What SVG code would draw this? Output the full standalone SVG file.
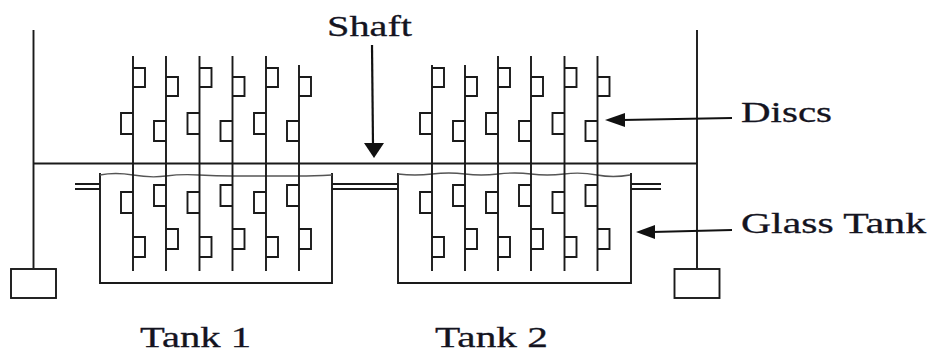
<svg xmlns="http://www.w3.org/2000/svg" width="931" height="353" viewBox="0 0 931 353">
<style>
.l{fill:none;stroke:#1a1a1a;stroke-width:1.9}
.w{fill:none;stroke:#555;stroke-width:1.3}
.a{fill:none;stroke:#111;stroke-width:2.2}
.h{fill:#111;stroke:none}
text{font-family:"Liberation Serif","Times New Roman",serif;font-size:29px;fill:#14141f;stroke:#14141f;stroke-width:.3}
</style>
<defs>
<path id="A" class="l" d="M0 56V271M0 68H12V87H0M0 113H-12V134H0M0 192H-12V213H0M0 237H12V257H0"/>
<path id="B" class="l" d="M0 56V271M0 77H12V96H0M0 121H-12V141H0M0 185H-12V206H0M0 229H12V249H0"/>
<path id="B2" class="l" d="M0 65V271M0 77H12V96H0M0 121H-12V141H0M0 185H-12V206H0M0 229H12V249H0"/>
<path id="A2" class="l" d="M0 65V271M0 68H12V87H0M0 113H-12V134H0M0 192H-12V213H0M0 237H12V257H0"/>
</defs>
<g id="frame"><path class="l" d="M33.5 30V268M697 30V268M33 163.5H697"/></g>
<g id="weight-left"><rect class="l" x="11" y="269" width="45" height="29"/></g>
<g id="weight-right"><rect class="l" x="674.5" y="269" width="45" height="29"/></g>
<g id="tank-1">
<path class="l" d="M100 173V283H332V173"/>
<path class="w" d="M100 175q15 -3 33 0t33 1 33 -1 33 1 34 0 33 0 33 -1"/>
<use href="#A" x="133"/><use href="#B" x="166"/><use href="#A" x="199.5"/><use href="#B" x="232.5"/><use href="#A" x="266"/><use href="#B2" x="299"/>
</g>
<g id="tank-2">
<path class="l" d="M398 173V283H631V173"/>
<path class="w" d="M398 174q17 2 34 0t33 0 33 0 33 0 33 0 33 1 33 0"/>
<use href="#A2" x="432"/><use href="#B2" x="465"/><use href="#A" x="498"/><use href="#B" x="531"/><use href="#A" x="564.5"/><use href="#B" x="597.5"/>
</g>
<g id="pipes"><path class="l" d="M75 184H100M75 189H100M332 184H398M332 189H398M631 184H661M631 189H661"/></g>
<g id="connectors">
<path class="a" d="M372 45L373 146"/><path class="h" d="M364 143H384L374 158Z"/>
<path class="a" d="M732 118L622 120"/><path class="h" d="M605 120L625 113V127Z"/>
<path class="a" d="M732 230L652 232"/><path class="h" d="M636 232L655 225V239Z"/>
</g>
<g id="labels">
<text x="327" y="36" textLength="85" lengthAdjust="spacingAndGlyphs">Shaft</text>
<text x="741" y="122" textLength="91" lengthAdjust="spacingAndGlyphs">Discs</text>
<text x="741" y="233" textLength="185" lengthAdjust="spacingAndGlyphs">Glass Tank</text>
<text x="140" y="347" textLength="111" lengthAdjust="spacingAndGlyphs">Tank 1</text>
<text x="435" y="347" textLength="113" lengthAdjust="spacingAndGlyphs">Tank 2</text>
</g>
</svg>
